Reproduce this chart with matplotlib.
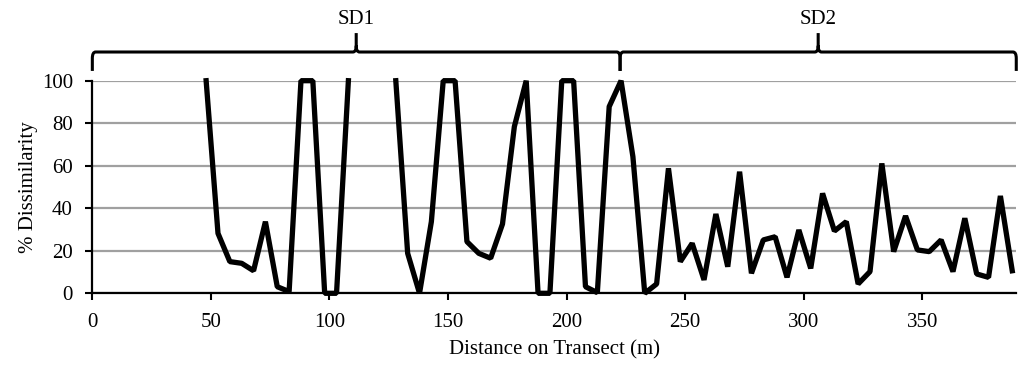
import numpy as np
import matplotlib
matplotlib.use("Agg")
import matplotlib.pyplot as plt
from matplotlib.path import Path
from matplotlib.patches import PathPatch
import matplotlib.transforms as mtransforms

plt.rcParams["font.family"] = ["Liberation Serif", "DejaVu Serif"]

# distance along transect (m) and % dissimilarity; nan = no value plotted
distance = [48, 53, 58, 63, 68, 73, 78, 83, 88, 93, 98, 103, 108, 113, 118, 123,
            128, 133, 138, 143, 148, 153, 158, 163, 168, 173, 178, 183, 188, 193,
            198, 203, 208, 213, 218, 223, 228, 233, 238, 243, 248, 253, 258, 263,
            268, 273, 278, 283, 288, 293, 298, 303, 308, 313, 318, 323, 328, 333,
            338, 343, 348, 353, 358, 363, 368, 373, 378, 383, 388]
dissim = [100, 28.2, 14.9, 14.1, 10.6, 33.7, 3.1, 0.8, 100, 100, 0, 0, 100,
          np.nan, np.nan, np.nan,
          100, 18.8, 0, 33.7, 100, 100, 24.3, 18.8, 16.5, 32.6, 78.4, 100, 0, 0,
          100, 100, 3.1, 0.3, 87.8, 100, 64.3, 0, 4.4, 58.8, 14.9, 23.5, 6.3, 37.3,
          12.5, 57.2, 9.4, 25.1, 26.6, 7.5, 29.8, 11.7, 47.0, 29.3, 33.7, 4.4, 10.2, 61.1,
          19.6, 36.4, 20.4, 19.6, 25.1, 10.2, 35.3, 9.1, 7.5, 45.8, 10.6]

# zones shown with braces above the plot
zone_names = ["SD1", "SD2"]
zone_edges = [0, 222.6, 389.7]

xticks = [0, 50, 100, 150, 200, 250, 300, 350]
yticks = [0, 20, 40, 60, 80, 100]

fig = plt.figure(figsize=(10.18, 3.68), dpi=100)
ax = fig.add_axes([0.0907, 0.203, 0.9076, 0.5777])

ax.plot(distance, dissim, color="black", lw=3.8, solid_joinstyle="bevel",
        clip_on=False, zorder=3)

ax.set_xlim(0, 389.7)
ax.set_ylim(0, 100)
ax.set_xticks(xticks)
ax.set_yticks(yticks)
ax.yaxis.grid(True, color="#a0a0a0", lw=1.6)
ax.set_axisbelow(True)
for s in ("top", "right"):
    ax.spines[s].set_visible(False)
for s in ("left", "bottom"):
    ax.spines[s].set_linewidth(1.6)
ax.tick_params(direction="out", length=5, width=1.5, labelsize=15, pad=9)
ax.set_xlabel("Distance on Transect (m)", fontsize=15, labelpad=6)
ax.set_ylabel("% Dissimilarity", fontsize=15, labelpad=3)

# braces: x in data units, y in axes fraction
trans = mtransforms.blended_transform_factory(ax.transData, ax.transAxes)
y_end, y_bar, y_tip = 1.046, 1.135, 1.224
rx, ry = 1.4, 0.03
for name, x0, x1 in zip(zone_names, zone_edges[:-1], zone_edges[1:]):
    xm = (x0 + x1) / 2
    verts = [(x0, y_end), (x0, y_bar - ry), (x0, y_bar), (x0 + rx, y_bar),
             (xm - rx, y_bar), (xm, y_bar), (xm, y_bar + ry), (xm, y_tip),
             (xm, y_bar + ry), (xm, y_bar), (xm + rx, y_bar),
             (x1 - rx, y_bar), (x1, y_bar), (x1, y_bar - ry), (x1, y_end)]
    codes = [Path.MOVETO, Path.LINETO, Path.CURVE3, Path.CURVE3,
             Path.LINETO, Path.CURVE3, Path.CURVE3, Path.LINETO,
             Path.MOVETO, Path.CURVE3, Path.CURVE3,
             Path.LINETO, Path.CURVE3, Path.CURVE3, Path.LINETO]
    ax.add_patch(PathPatch(Path(verts, codes), transform=trans, fill=False,
                           lw=2.2, color="black", clip_on=False))
    ax.text(xm, 1.29, name, transform=trans, ha="center", va="center", fontsize=15)

fig.savefig("out.png", dpi=100)
